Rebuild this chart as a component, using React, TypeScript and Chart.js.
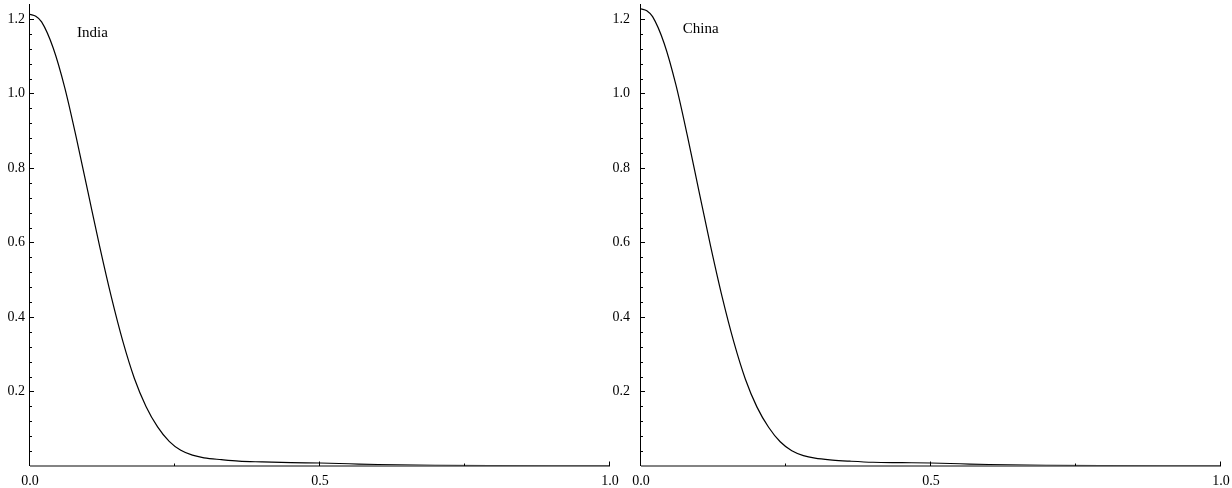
import React, { useEffect, useRef } from 'react';
import { Chart, registerables } from 'chart.js';

Chart.register(...registerables);

// Shared x grid (data coordinates)
const xValues = [0, 0.01, 0.02, 0.04, 0.06, 0.08, 0.1, 0.12, 0.14, 0.16, 0.18, 0.2, 0.22, 0.24, 0.26, 0.28, 0.3, 0.33, 0.36, 0.4, 0.45, 0.5, 0.55, 0.6, 0.7, 0.8, 0.9, 1.0];

// Curve values
const indiaValues = [1.212, 1.207, 1.192, 1.122, 1.015, 0.88, 0.735, 0.59, 0.455, 0.335, 0.235, 0.16, 0.105, 0.066, 0.042, 0.029, 0.022, 0.017, 0.013, 0.011, 0.009, 0.008, 0.006, 0.004, 0.002, 0.001, 0.0005, 0.0003];
const chinaValues = [1.227, 1.222, 1.206, 1.134, 1.024, 0.886, 0.737, 0.59, 0.453, 0.333, 0.233, 0.158, 0.104, 0.065, 0.041, 0.028, 0.021, 0.016, 0.013, 0.01, 0.009, 0.008, 0.006, 0.004, 0.002, 0.001, 0.0005, 0.0003];

// Tick values
const xTickValues = [0, 0.5, 1.0];
const xMinorTickValues = [0.25, 0.75];
const yTickValues = [0.2, 0.4, 0.6, 0.8, 1.0, 1.2];
const yMinorTickValues = [0.04, 0.08, 0.12, 0.16, 0.24, 0.28, 0.32, 0.36, 0.44, 0.48, 0.52, 0.56, 0.64, 0.68, 0.72, 0.76, 0.84, 0.88, 0.92, 0.96, 1.04, 1.08, 1.12, 1.16];

const panelNames = ['India', 'China'];

const FONT = '"Liberation Serif", "Times New Roman", serif';

type PanelProps = {
  values: number[];
  label: string;
  labelX: number;
  labelY: number;
  left: number;
  width: number;
  yAxisWidth: number;
  rightPad: number;
  yTickPad: number;
};

function zeroPadding(s: any) {
  s.paddingTop = 0;
  s.paddingBottom = 0;
  s.paddingLeft = 0;
  s.paddingRight = 0;
}

function Panel({ values, label, labelX, labelY, left, width, yAxisWidth, rightPad, yTickPad }: PanelProps) {
  const ref = useRef<HTMLCanvasElement>(null);

  useEffect(() => {
    if (!ref.current) return;

    const axesPlugin = {
      id: 'mmaAxes',
      afterDatasetsDraw(chart: any) {
        const { ctx, scales } = chart;
        const xs = scales.x;
        const ys = scales.y;
        const y0 = ys.getPixelForValue(0);
        const xLeft = xs.getPixelForValue(0);
        const xRight = xs.getPixelForValue(1);
        ctx.save();
        // x axis
        ctx.strokeStyle = '#5a5a5a';
        ctx.lineWidth = 1.6;
        ctx.beginPath();
        ctx.moveTo(xLeft, y0);
        ctx.lineTo(xRight, y0);
        ctx.stroke();
        // x ticks (pointing up)
        ctx.strokeStyle = '#000';
        ctx.lineWidth = 1;
        xTickValues.forEach((v) => {
          if (v === 0) return;
          const px = Math.round(xs.getPixelForValue(v)) - 0.5;
          ctx.beginPath();
          ctx.moveTo(px, y0);
          ctx.lineTo(px, y0 - 4.5);
          ctx.stroke();
        });
        xMinorTickValues.forEach((v) => {
          const px = Math.round(xs.getPixelForValue(v)) - 0.5;
          ctx.beginPath();
          ctx.moveTo(px, y0);
          ctx.lineTo(px, y0 - 2.5);
          ctx.stroke();
        });
        // y axis
        const ax = Math.round(xLeft) - 0.5;
        ctx.beginPath();
        ctx.moveTo(ax, y0);
        ctx.lineTo(ax, ys.top);
        ctx.stroke();
        yTickValues.forEach((v) => {
          const py = Math.round(ys.getPixelForValue(v)) + 0.5;
          ctx.beginPath();
          ctx.moveTo(ax, py);
          ctx.lineTo(ax + 4.5, py);
          ctx.stroke();
        });
        yMinorTickValues.forEach((v) => {
          const py = Math.round(ys.getPixelForValue(v)) + 0.5;
          ctx.beginPath();
          ctx.moveTo(ax, py);
          ctx.lineTo(ax + 2.5, py);
          ctx.stroke();
        });
        // panel label
        ctx.fillStyle = '#000';
        ctx.font = `15px ${FONT}`;
        ctx.textAlign = 'left';
        ctx.textBaseline = 'alphabetic';
        ctx.fillText(label, xs.getPixelForValue(labelX), ys.getPixelForValue(labelY));
        ctx.restore();
      },
    };

    const chart = new Chart(ref.current, {
      type: 'line',
      data: {
        datasets: [
          {
            label,
            data: xValues.map((x, i) => ({ x, y: values[i] })),
            borderColor: '#000',
            borderWidth: 1.2,
            pointRadius: 0,
            fill: false,
            cubicInterpolationMode: 'monotone',
          },
        ],
      },
      options: {
        animation: false,
        responsive: false,
        maintainAspectRatio: false,
        layout: { padding: { top: 4, right: rightPad, left: 0, bottom: 0 } },
        plugins: { legend: { display: false }, tooltip: { enabled: false } },
        scales: {
          x: {
            type: 'linear',
            min: 0,
            max: 1,
            grid: { display: false, drawTicks: false },
            border: { display: false },
            afterBuildTicks: (s: any) => {
              s.ticks = xTickValues.map((v) => ({ value: v }));
            },
            afterFit: (s: any) => {
              s.height = 22;
              zeroPadding(s);
            },
            ticks: {
              callback: (v: any) => Number(v).toFixed(1),
              font: { family: FONT, size: 14 },
              color: '#000',
              padding: 7,
              maxRotation: 0,
              autoSkip: false,
            },
          },
          y: {
            type: 'linear',
            min: 0,
            max: 1.24,
            grid: { display: false, drawTicks: false },
            border: { display: false },
            afterBuildTicks: (s: any) => {
              s.ticks = yTickValues.map((v) => ({ value: v }));
            },
            afterFit: (s: any) => {
              s.width = yAxisWidth;
              zeroPadding(s);
            },
            ticks: {
              callback: (v: any) => Number(v).toFixed(1),
              font: { family: FONT, size: 14 },
              color: '#000',
              padding: yTickPad,
              autoSkip: false,
            },
          },
        },
      },
      plugins: [axesPlugin],
    } as any);

    return () => chart.destroy();
  }, [values, label, labelX, labelY, yAxisWidth, rightPad, yTickPad]);

  return (
    <canvas
      ref={ref}
      width={width}
      height={488}
      style={{ position: 'absolute', left, top: 0, width, height: 488 }}
    />
  );
}

export default function App() {
  return (
    <div style={{ position: 'fixed', left: 0, top: 0, width: 1232, height: 488, background: '#fff', overflow: 'hidden' }}>
      <Panel values={indiaValues} label={panelNames[0]} labelX={0.081} labelY={1.152} left={0} width={630} yAxisWidth={30} rightPad={20} yTickPad={5} />
      <Panel values={chinaValues} label={panelNames[1]} labelX={0.072} labelY={1.162} left={610} width={622} yAxisWidth={31} rightPad={11} yTickPad={11} />
    </div>
  );
}
